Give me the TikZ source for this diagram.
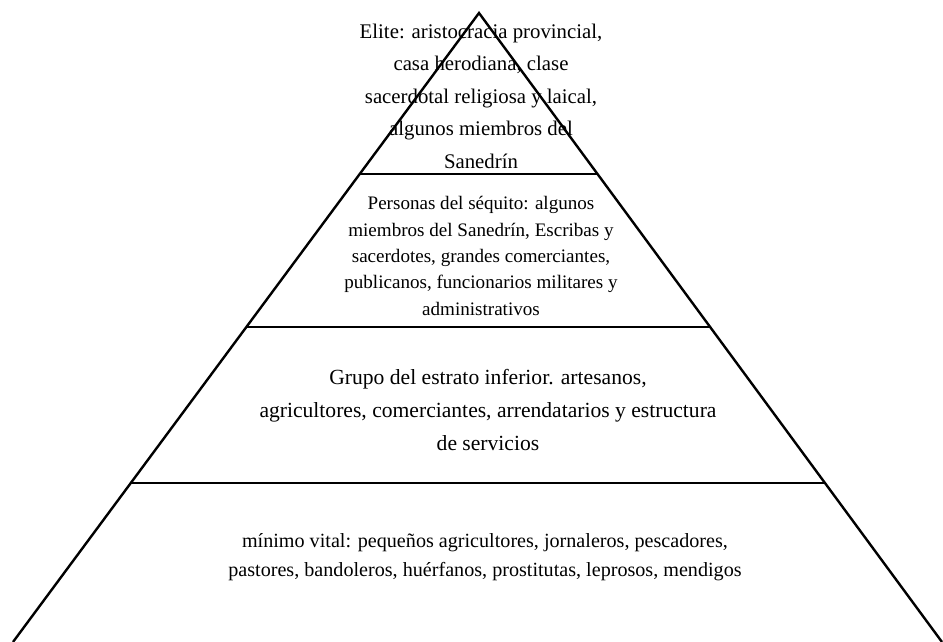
\documentclass[tikz,border=0pt]{standalone}
\usepackage{fontspec}
\setmainfont{Liberation Serif}
\usetikzlibrary{calc}

\begin{document}
\begin{tikzpicture}[x=0.75pt, y=-0.75pt, line width=1.8pt,
  big/.style={align=center, font=\fontsize{15.6}{24.4}\selectfont},
  small/.style={align=center, font=\fontsize{14.3}{19.8}\selectfont}]
  \useasboundingbox (0,0) rectangle (943,642);
  \coordinate (apex) at (479,13);
  \coordinate (baseL) at (13,642);
  \coordinate (baseR) at (942,642);
  \draw (baseL) -- (apex) -- (baseR);
  % dividing lines between the four strata
  \foreach \t in {0.256,0.499,0.747}
    \draw ($(apex)!\t!(baseL)$) -- ($(apex)!\t!(baseR)$);
  \node[big] (elite) at (481,96) {Elite: aristocracia provincial,\\ casa herodiana, clase\\ sacerdotal religiosa y laical,\\ algunos miembros del\\ Sanedrín};
  \node[small] (sequito) at (481,256) {Personas del séquito: algunos\\ miembros del Sanedrín, Escribas y\\ sacerdotes, grandes comerciantes,\\ publicanos, funcionarios militares y\\ administrativos};
  \node[big, font=\fontsize{16.2}{24.4}\selectfont] (inferior) at (488,410) {Grupo del estrato inferior. artesanos,\\ agricultores, comerciantes, arrendatarios y estructura\\ de servicios};
  \node[big, font=\fontsize{15.1}{22}\selectfont] (minimo) at (485,557) {mínimo vital: pequeños agricultores, jornaleros, pescadores,\\ pastores, bandoleros, huérfanos, prostitutas, leprosos, mendigos};
\end{tikzpicture}
\end{document}
